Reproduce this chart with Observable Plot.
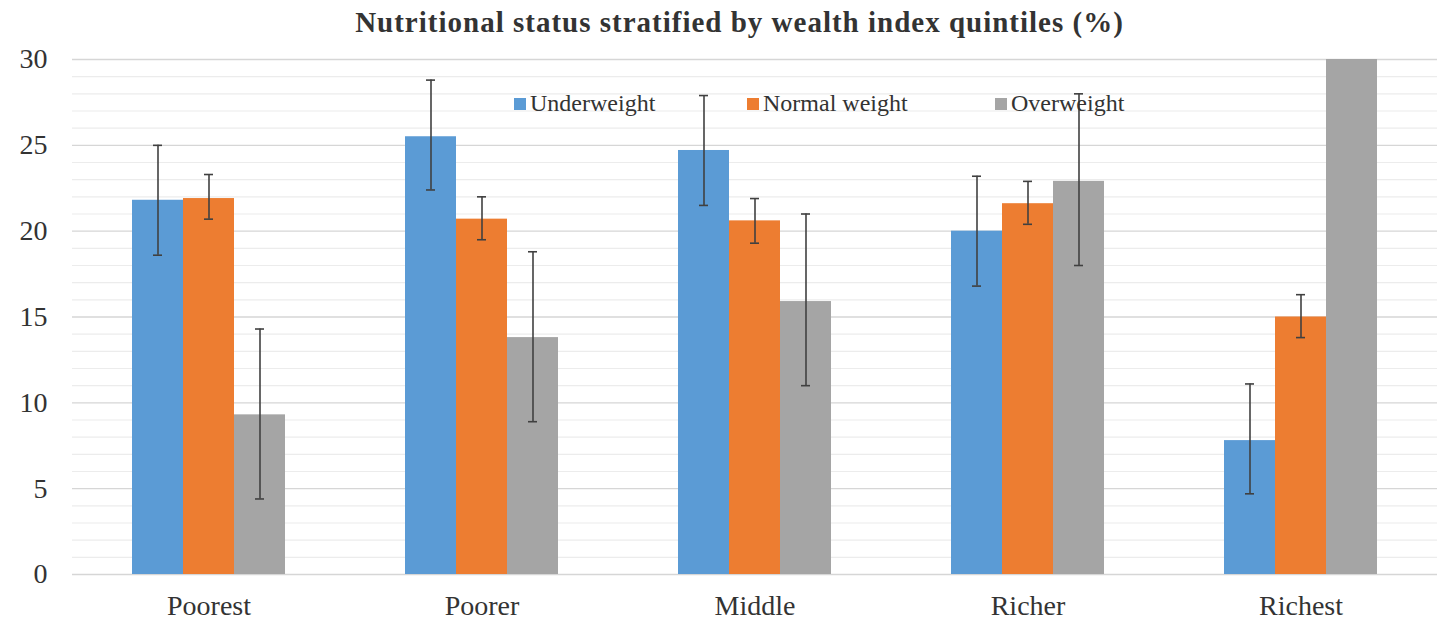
<!DOCTYPE html>
<html>
<head>
<meta charset="utf-8">
<script src="https://cdn.jsdelivr.net/npm/d3@7"></script>
<script src="https://cdn.jsdelivr.net/npm/@observablehq/plot@0.6"></script>
<style>
  html, body { margin: 0; padding: 0; background: #fff; }
  #wrap { position: relative; width: 1439px; height: 621px; overflow: hidden; font-family: "Liberation Serif", "Times New Roman", Tinos, "Noto Serif", "DejaVu Serif", serif; }
  #title { position: absolute; top: 0; left: 0; width: 1399px; height: 45px; line-height: 44px; text-align: center; padding-left: 40px; font-weight: bold; font-size: 29px; letter-spacing: 1px; color: #333; z-index: 3; }
  #legend { position: absolute; top: 88px; left: 0; width: 1439px; height: 30px; z-index: 2; pointer-events: none; }
  .item { position: absolute; top: 0; font-size: 24px; line-height: 30px; color: #333; white-space: nowrap; }
  .sw { display: inline-block; width: 12px; height: 12px; margin-right: 4px; vertical-align: 1px; }
  #chart svg text { font-family: "Liberation Serif", "Times New Roman", Tinos, "Noto Serif", "DejaVu Serif", serif; }
</style>
</head>
<body>
<div id="wrap">
  <div id="title">Nutritional status stratified by wealth index quintiles (%)</div>
  <div id="legend"></div>
  <div id="chart"></div>
</div>
<script>
const categories = ["Poorest", "Poorer", "Middle", "Richer", "Richest"];
const series = ["Underweight", "Normal weight", "Overweight"];
const colors = ["#5B9BD5", "#ED7D31", "#A5A5A5"];

const underweight   = [21.8, 25.5, 24.7, 20.0, 7.8];
const underweightLo = [18.6, 22.4, 21.5, 16.8, 4.7];
const underweightHi = [25.0, 28.8, 27.9, 23.2, 11.1];

const normalWeight   = [21.9, 20.7, 20.6, 21.6, 15.0];
const normalWeightLo = [20.7, 19.5, 19.3, 20.4, 13.8];
const normalWeightHi = [23.3, 22.0, 21.9, 22.9, 16.3];

const overweight   = [9.3, 13.8, 15.9, 22.9, 30];
const overweightLo = [4.4, 8.9, 11.0, 18.0, null];
const overweightHi = [14.3, 18.8, 21.0, 28.0, null];

const yTicks = [0, 5, 10, 15, 20, 25, 30];
const yMinor = d3.range(0, 31, 1);

const table = [];
const sets = [
  [underweight, underweightLo, underweightHi],
  [normalWeight, normalWeightLo, normalWeightHi],
  [overweight, overweightLo, overweightHi]
];
categories.forEach((c, i) => {
  series.forEach((s, j) => {
    const [v, lo, hi] = sets[j];
    table.push({cat: c, series: s, value: v[i], lo: lo[i], hi: hi[i]});
  });
});

const chart = Plot.plot({
  width: 1439,
  height: 621,
  marginTop: 59,
  marginBottom: 47,
  marginLeft: 70,
  marginRight: 0,
  style: { fontFamily: "'Liberation Serif', 'Times New Roman', Tinos, serif", fontSize: "28px", color: "#333", background: "#fff" },
  facet: { data: table, x: "cat" },
  fx: { domain: categories, padding: 0, axis: "bottom", tickSize: 0, tickPadding: 21, label: null },
  x: { domain: series, paddingInner: 0, paddingOuter: 1.13, axis: null },
  y: { domain: [0, 30], ticks: yTicks, tickSize: 0, tickPadding: 25, label: null, tickFormat: d => String(d) },
  color: { domain: series, range: colors },
  marks: [
    Plot.ruleY(yMinor.filter(d => d % 5 !== 0), { stroke: "#ececec", strokeWidth: 1.2 }),
    Plot.ruleY(yTicks, { stroke: "#d6d6d6", strokeWidth: 1.4 }),
    Plot.barY(table, { x: "series", y: "value", fill: "series" }),
    Plot.ruleX(table, { x: "series", y1: "lo", y2: "hi", stroke: "#404040", strokeWidth: 1.6 }),
    Plot.tickY(table, { x: "series", y: "lo", stroke: "#404040", strokeWidth: 1.6, insetLeft: 21, insetRight: 21 }),
    Plot.tickY(table, { x: "series", y: "hi", stroke: "#404040", strokeWidth: 1.6, insetLeft: 21, insetRight: 21 })
  ]
});
document.getElementById("chart").appendChild(chart);

const legendLefts = [514, 747, 995];
const legend = document.getElementById("legend");
series.forEach((s, j) => {
  const item = document.createElement("div");
  item.className = "item";
  item.style.left = legendLefts[j] + "px";
  const sw = document.createElement("span");
  sw.className = "sw";
  sw.style.background = colors[j];
  item.appendChild(sw);
  item.appendChild(document.createTextNode(s));
  legend.appendChild(item);
});
</script>
</body>
</html>
